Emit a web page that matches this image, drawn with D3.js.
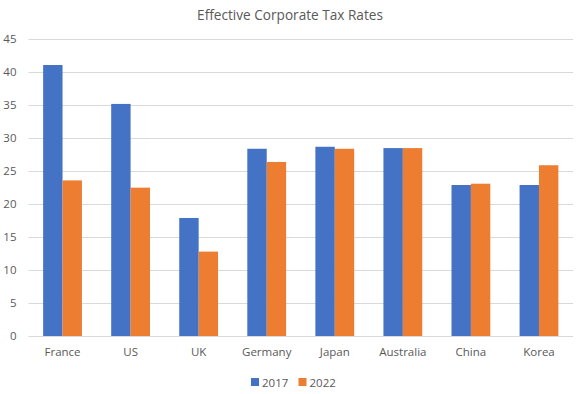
<!DOCTYPE html>
<html><head><meta charset="utf-8">
<script src="https://cdn.jsdelivr.net/npm/d3@7"></script>
<style>body{margin:0;background:#fff;} text{font-family:"Open Sans","Noto Sans",sans-serif;fill:#595959;}</style>
</head><body>
<svg id="c" width="583" height="394"></svg>
<script>
const categories = ["France","US","UK","Germany","Japan","Australia","China","Korea"];
const series = ["2017","2022"];
const values2017 = [41.1,35.2,17.9,28.4,28.7,28.5,22.9,22.9];
const values2022 = [23.6,22.5,12.8,26.4,28.4,28.5,23.1,25.9];
const yTicks = [0,5,10,15,20,25,30,35,40,45];
const colors = ["#4472C4","#ED7D31"];
const title = "Effective Corporate Tax Rates";
const FONT = '"Open Sans","Noto Sans",sans-serif';

const svg = d3.select("#c");
const m = {left:28.5};
const x = d3.scaleBand().domain(categories).range([m.left,573]).paddingInner(0.43).paddingOuter(0.215);
const xs = d3.scaleBand().domain(series).range([0,x.bandwidth()]);
const y = d3.scaleLinear().domain([0,45]).range([336,39.3]);

const t = svg.append("text").attr("x",290).attr("y",19.5).attr("text-anchor","middle").attr("font-size",14).text(title);
const tl = t.node().getComputedTextLength();
t.attr("font-size",14*186/tl);

svg.append("g").selectAll("line").data(yTicks).join("line")
  .attr("x1",m.left).attr("x2",573)
  .attr("y1",d=>Math.round(y(d))+0.5).attr("y2",d=>Math.round(y(d))+0.5)
  .attr("stroke","#D9D9D9").attr("stroke-width",1);

const yAxis = svg.append("g").attr("transform",`translate(${m.left},0)`)
  .call(d3.axisLeft(y).tickValues(yTicks).tickSize(0).tickPadding(12));
yAxis.select(".domain").remove();
yAxis.selectAll("text").attr("font-size",11.5).style("font-family",FONT).attr("fill","#595959");

const data = [values2017, values2022];
series.forEach((s,i)=>{
  svg.append("g").selectAll("rect").data(categories).join("rect")
    .attr("x",d=>x(d)+xs(s)).attr("width",xs.bandwidth())
    .attr("y",(d,j)=>y(data[i][j])).attr("height",(d,j)=>y(0)-y(data[i][j]))
    .attr("fill",colors[i]);
});

const xAxis = svg.append("g").attr("transform",`translate(0,336)`)
  .call(d3.axisBottom(x).tickSize(0).tickPadding(12));
xAxis.select(".domain").remove();
xAxis.selectAll("text").attr("font-size",11.5).style("font-family",FONT).attr("fill","#595959");

const leg = svg.append("g");
const lx=[251,298.5];
series.forEach((s,i)=>{
  leg.append("rect").attr("x",lx[i]).attr("y",378).attr("width",8).attr("height",8).attr("fill",colors[i]);
  leg.append("text").attr("x",lx[i]+11).attr("y",386.5).attr("font-size",11.5).text(s);
});
</script>
</body></html>
